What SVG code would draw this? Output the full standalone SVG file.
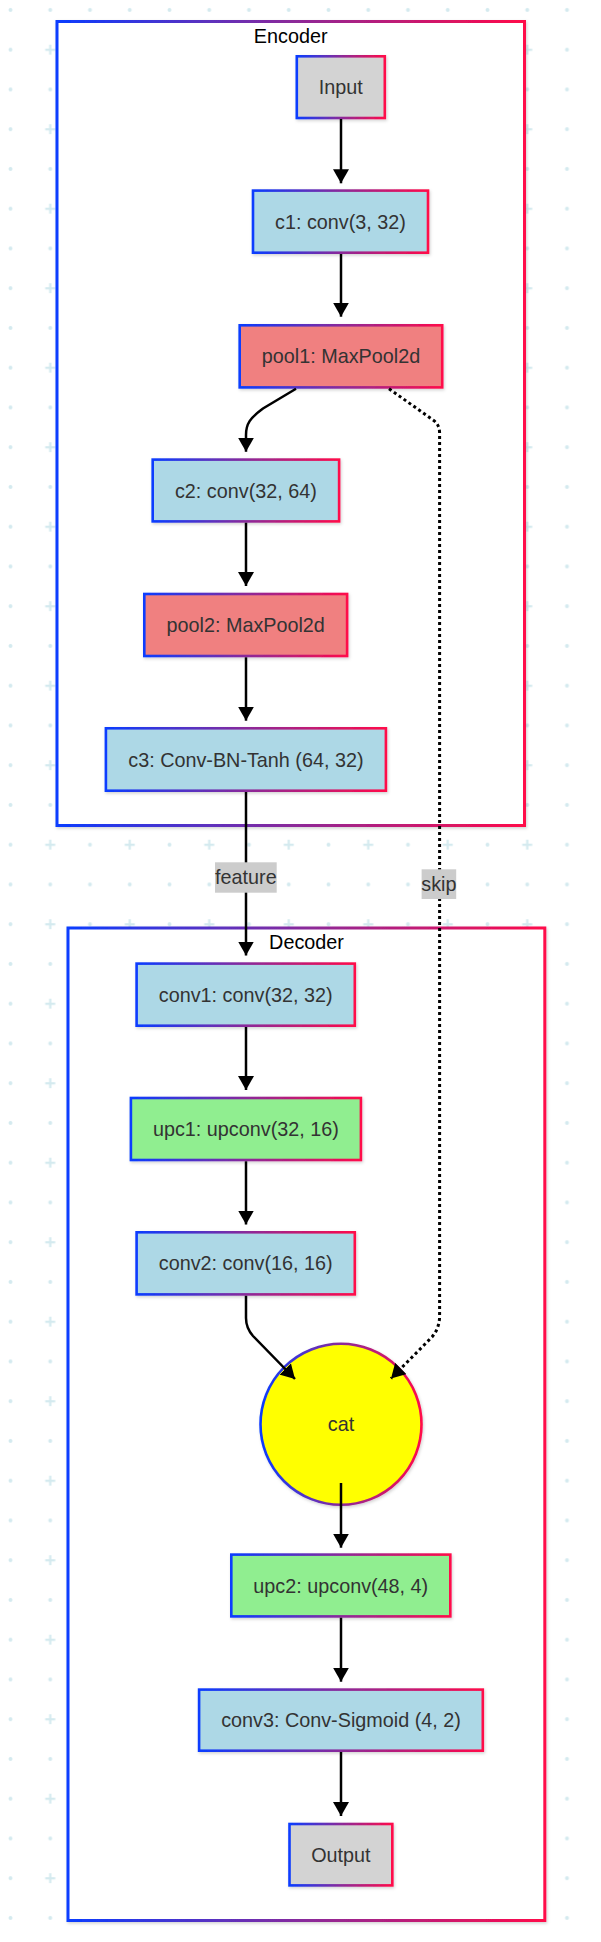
<svg xmlns="http://www.w3.org/2000/svg" width="601" height="1942" viewBox="0 0 601 1942">
<style>
.frame{fill:#fff;stroke:url(#g);stroke-width:3;filter:url(#sh)}
.node{stroke:url(#g);stroke-width:2.6;filter:url(#sh)}
.blue{fill:#add8e6}.red{fill:#f08080}.green{fill:#90ee90}.gray{fill:#d3d3d3}.yel{fill:#ffff00}
.t{font-family:"Liberation Sans",Arial,sans-serif;font-size:19.8px;fill:#333;text-anchor:middle}
.ft{font-family:"Liberation Sans",Arial,sans-serif;font-size:19.8px;fill:#000;text-anchor:middle}
.e{fill:none;stroke:#000;stroke-width:2.5;marker-end:url(#ah)}
.d{stroke-width:3;stroke-dasharray:3 3}
.lb{fill:#cccccc}
</style>
<defs>
<linearGradient id="g" x1="0" y1="0" x2="1" y2="0">
<stop offset="0" stop-color="#0a3cff"/>
<stop offset="0.5" stop-color="#8a2a9a"/>
<stop offset="1" stop-color="#ff0a4a"/>
</linearGradient>
<filter id="sh" x="-10%" y="-10%" width="120%" height="120%">
<feDropShadow dx="1" dy="1.5" stdDeviation="1.5" flood-color="#000" flood-opacity="0.18"/>
</filter>
<pattern id="bg" x="0" y="0" width="79.5" height="79.5" patternUnits="userSpaceOnUse">
<circle cx="10.5" cy="10" r="2" fill="#d4eaef"/>
<circle cx="50.25" cy="10" r="2" fill="#d4eaef"/>
<circle cx="10.5" cy="49.75" r="2" fill="#d4eaef"/>
<path d="M45.25 49.75H55.25M50.25 44.75V54.75" stroke="#d4eaef" stroke-width="2.2"/>
</pattern>
<marker id="ah" markerUnits="userSpaceOnUse" markerWidth="14" markerHeight="16" viewBox="0 0 14 16" refX="14" refY="8" orient="auto">
<path d="M0,0 L14,8 L0,16 z" fill="#000"/>
</marker>
</defs>
<rect width="601" height="1942" fill="#fff"/>
<rect width="601" height="1942" fill="url(#bg)"/>

<g id="encoder">
<rect class="frame" x="57" y="21.5" width="467.5" height="804"/>
<text class="ft" x="290.7" y="42.7">Encoder</text>
</g>
<g id="decoder">
<rect class="frame" x="68" y="928" width="476.8" height="992.5"/>
<text class="ft" x="306.5" y="949">Decoder</text>
</g>

<g id="Input"><rect class="node gray" x="296.8" y="56.3" width="88" height="61.7"/><text class="t" x="340.8" y="94.2">Input</text></g>
<g id="c1"><rect class="node blue" x="253" y="190.6" width="175" height="62.1"/><text class="t" x="340.5" y="228.7">c1: conv(3, 32)</text></g>
<g id="pool1"><rect class="node red" x="239.7" y="325.3" width="202.5" height="62.1"/><text class="t" x="341" y="363.3">pool1: MaxPool2d</text></g>
<g id="c2"><rect class="node blue" x="152.7" y="459.6" width="186.4" height="61.8"/><text class="t" x="245.9" y="497.5">c2: conv(32, 64)</text></g>
<g id="pool2"><rect class="node red" x="144.3" y="594" width="202.8" height="62"/><text class="t" x="245.7" y="632">pool2: MaxPool2d</text></g>
<g id="c3"><rect class="node blue" x="105.9" y="728.3" width="280" height="62.4"/><text class="t" x="245.9" y="766.5">c3: Conv-BN-Tanh (64, 32)</text></g>
<g id="conv1"><rect class="node blue" x="136.6" y="963.6" width="218.2" height="62.1"/><text class="t" x="245.7" y="1001.7">conv1: conv(32, 32)</text></g>
<g id="upc1"><rect class="node green" x="130.9" y="1098" width="230" height="62"/><text class="t" x="245.9" y="1136">upc1: upconv(32, 16)</text></g>
<g id="conv2"><rect class="node blue" x="136.6" y="1232.3" width="218.2" height="62.1"/><text class="t" x="245.7" y="1270.3">conv2: conv(16, 16)</text></g>
<g id="cat"><circle class="node yel" cx="341" cy="1424.3" r="80.5"/><text class="t" x="341" y="1431.3">cat</text></g>
<g id="upc2"><rect class="node green" x="231.3" y="1554.6" width="219" height="61.8"/><text class="t" x="340.8" y="1592.5">upc2: upconv(48, 4)</text></g>
<g id="conv3"><rect class="node blue" x="199.1" y="1689.6" width="283.7" height="61.1"/><text class="t" x="341" y="1727.2">conv3: Conv-Sigmoid (4, 2)</text></g>
<g id="Output"><rect class="node gray" x="289.5" y="1824" width="102.8" height="61.4"/><text class="t" x="340.9" y="1861.7">Output</text></g>

<g id="connectors">
<path class="e" d="M341,119 L341,183.3"/>
<path class="e" d="M341,254 L341,316.7"/>
<path class="e" d="M296,388.7 L263,408.5 C250,418 246,424 246,435 L246,451.7"/>
<path class="e" d="M246,522.7 L246,586"/>
<path class="e" d="M246,657.3 L246,720.7"/>
<path class="e" d="M246,792 L246,955.5"/>
<path class="e" d="M246,1027 L246,1090"/>
<path class="e" d="M246,1161.3 L246,1224.5"/>
<path class="e d" d="M389,388.7 L433,420 Q439.6,424.5 439.6,433 L439.6,1316 Q439.6,1328 432,1337 L391,1378.5"/>
<path class="e" d="M246,1295.7 L246,1318 Q246,1328 253,1336 L295,1379"/>
<path class="e" d="M341,1483 L341,1547.7"/>
<path class="e" d="M341,1617.7 L341,1681.7"/>
<path class="e" d="M341,1752 L341,1816"/>
<g id="label-feature">
<rect class="lb" x="215" y="862.3" width="61.7" height="30.4"/>
<text class="t" x="245.85" y="884">feature</text>
</g>
<g id="label-skip">
<rect class="lb" x="421.6" y="869.3" width="34.6" height="29.7"/>
<text class="t" x="438.9" y="891">skip</text>
</g>
</g>
</svg>
